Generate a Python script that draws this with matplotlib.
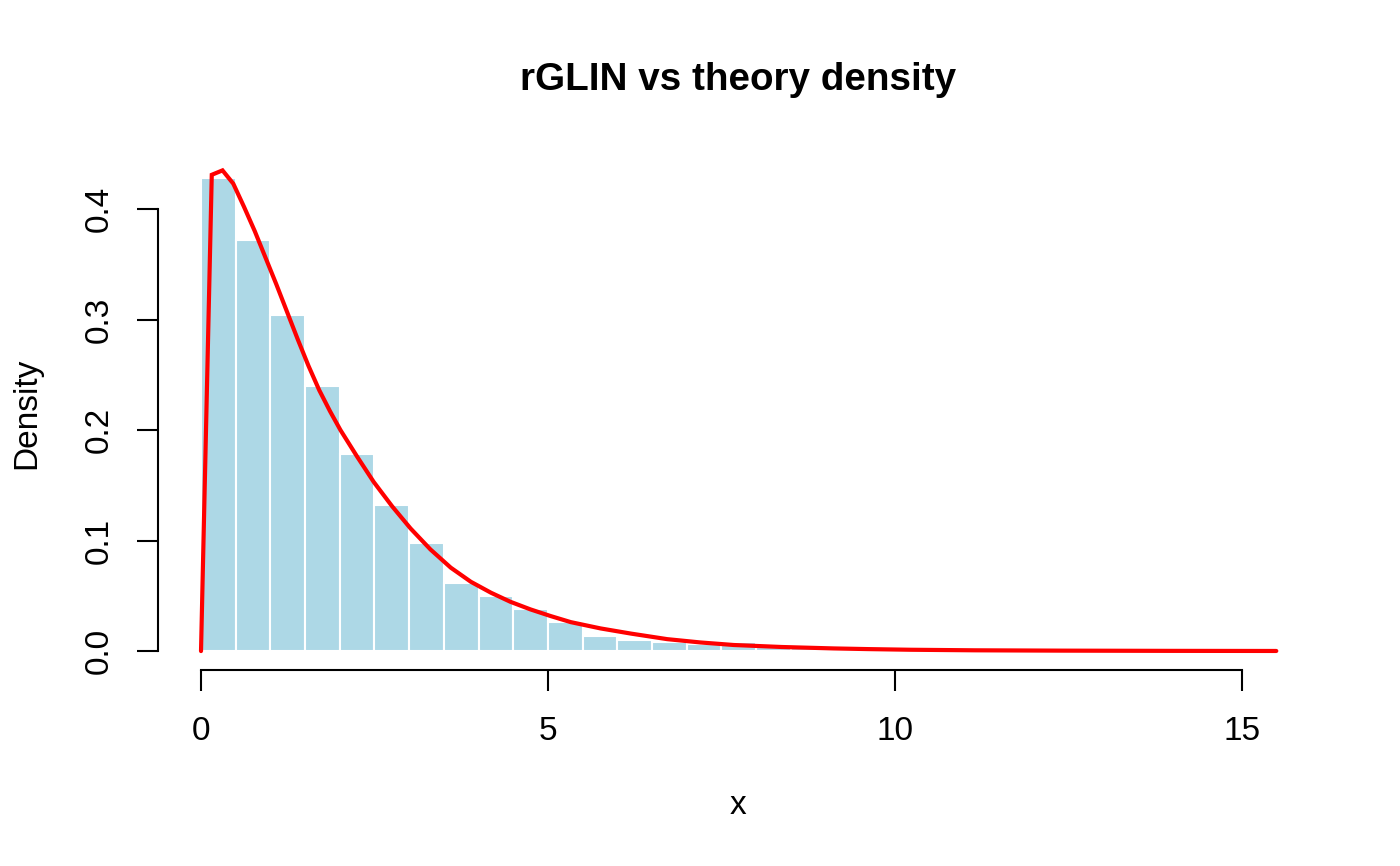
import matplotlib
matplotlib.use("Agg")
import matplotlib.pyplot as plt
import numpy as np

plt.rcParams['font.family'] = ['Liberation Sans', 'DejaVu Sans']

# Histogram (density) with bin width 0.5 from 0 to 15.5
bin_edges = [0.0, 0.5, 1.0, 1.5, 2.0, 2.5, 3.0, 3.5, 4.0, 4.5, 5.0, 5.5, 6.0, 6.5,
             7.0, 7.5, 8.0, 8.5, 9.0, 9.5, 10.0, 10.5, 11.0, 11.5, 12.0, 12.5,
             13.0, 13.5, 14.0, 14.5, 15.0, 15.5]
densities = [0.428, 0.372, 0.304, 0.240, 0.178, 0.132, 0.098, 0.062, 0.050, 0.038,
             0.026, 0.014, 0.010, 0.008, 0.006, 0.008, 0.004, 0.004, 0.002, 0.004,
             0.002, 0.002, 0.000, 0.002, 0.002, 0.000, 0.002, 0.000, 0.000, 0.000,
             0.002]

# Theoretical density curve
curve_x = [0.0, 0.155, 0.31, 0.465, 0.62, 0.775, 0.93, 1.085, 1.24, 1.395, 1.55,
           1.705, 1.86, 2.01, 2.25, 2.49, 2.755, 3.02, 3.307, 3.6, 3.89, 4.18,
           4.46, 4.75, 5.04, 5.33, 5.76, 6.20, 6.72, 7.20, 7.68, 8.37, 9.12, 9.61,
           10.23, 11.16, 12.40, 13.95, 15.5]
curve_y = [0.0, 0.431, 0.435, 0.423, 0.402, 0.380, 0.356, 0.332, 0.307, 0.282, 0.258,
           0.236, 0.217, 0.200, 0.176, 0.153, 0.131, 0.111, 0.092, 0.0755, 0.0627,
           0.0528, 0.0446, 0.0377, 0.0317, 0.0262, 0.0205, 0.0158, 0.0108, 0.0078,
           0.0055, 0.0037, 0.0024, 0.0018, 0.0012, 0.0007, 0.0004, 0.0002, 0.0001]

x_ticks = [0, 5, 10, 15]
y_ticks = [0.0, 0.1, 0.2, 0.3, 0.4]
y_ticklabels = ["0.0", "0.1", "0.2", "0.3", "0.4"]

W, H = 1400, 866
fig = plt.figure(figsize=(7, 4.33), dpi=200)
left_px, right_px, top_px, bottom_px = 158, 1319.3, 159.2, 670
ax = fig.add_axes([left_px / W, (H - bottom_px) / H,
                   (right_px - left_px) / W, (bottom_px - top_px) / H])

edges = np.array(bin_edges)
widths = np.diff(edges)
ax.bar(edges[:-1], densities, width=widths, align='edge', color='#ADD8E6',
       edgecolor='white', linewidth=0.75)
ax.plot(curve_x, curve_y, color='red', linewidth=1.5, solid_capstyle='round',
        solid_joinstyle='miter')

xr = bin_edges[-1] - bin_edges[0]
ax.set_xlim(bin_edges[0] - 0.04 * xr, bin_edges[-1] + 0.04 * xr)
ymax = max(densities)
ax.set_ylim(-0.04 * ymax, ymax * 1.04)

for s in ['top', 'right']:
    ax.spines[s].set_visible(False)
ax.spines['left'].set_bounds(0, 0.4)
ax.spines['bottom'].set_bounds(0, 15)
for s in ['left', 'bottom']:
    ax.spines[s].set_linewidth(0.75)

ax.set_xticks(x_ticks)
ax.set_xticklabels([str(t) for t in x_ticks])
ax.set_yticks(y_ticks)
ax.set_yticklabels(y_ticklabels, rotation=90, va='center')
ax.tick_params(axis='both', direction='out', length=7.5, width=0.75,
               labelsize=12)
ax.tick_params(axis='x', pad=9)
ax.tick_params(axis='y', pad=8)

fig.text(738 / W, 1 - 80 / H, "rGLIN vs theory density", ha='center', va='center',
         fontsize=13.9, fontweight='bold')
fig.text(738 / W, 1 - 805 / H, "x", ha='center', va='center', fontsize=12)
fig.text(27 / W, 1 - 413 / H, "Density", ha='center', va='center', fontsize=12,
         rotation=90)

fig.savefig("out.png", dpi=200)
